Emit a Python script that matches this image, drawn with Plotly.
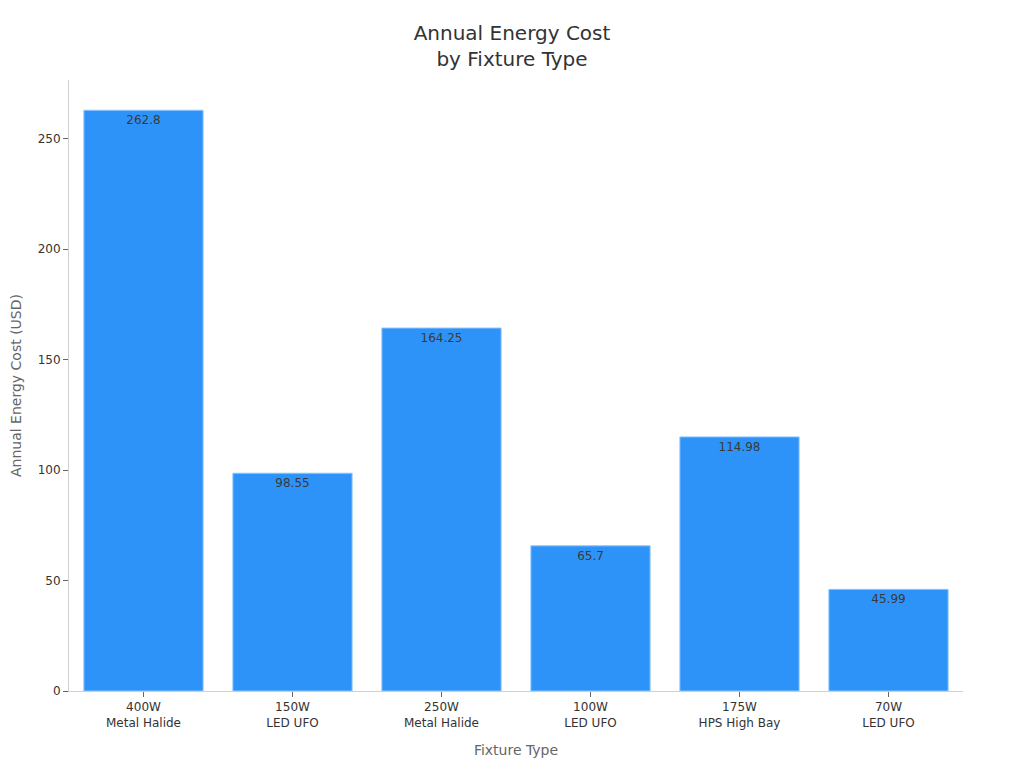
import plotly.graph_objects as go

categories = ["400W<br>Metal Halide", "150W<br>LED UFO", "250W<br>Metal Halide",
              "100W<br>LED UFO", "175W<br>HPS High Bay", "70W<br>LED UFO"]
costs = [262.8, 98.55, 164.25, 65.7, 114.98, 45.99]
labels = ["262.8", "98.55", "164.25", "65.7", "114.98", "45.99"]

fig = go.Figure(go.Bar(
    x=categories, y=costs, text=labels,
    textposition="inside", insidetextanchor="end",
    textfont=dict(color="#3a3a3a", size=12),
    marker=dict(color="#2E93F9", line=dict(color="#8CC4FB", width=1)),
    width=0.8,
))

fig.update_layout(
    width=1024, height=768,
    font=dict(family="DejaVu Sans", color="#333333"),
    title=dict(text="Annual Energy Cost<br>by Fixture Type", x=0.4922, xanchor="center",
               y=0.9585, yanchor="top", font=dict(size=20, color="#333333")),
    paper_bgcolor="white", plot_bgcolor="white",
    margin=dict(l=61, r=69, t=72, b=85),
    showlegend=False,
    xaxis=dict(title=dict(text="Fixture Type", font=dict(size=14, color="#666666"), standoff=16),
               showline=True, linecolor="#d0d0d0", ticks="outside", tickcolor="#666666",
               ticklen=5, tickfont=dict(size=12), showgrid=False),
    yaxis=dict(title=dict(text="Annual Energy Cost (USD)", font=dict(size=14, color="#666666")),
               range=[0, 276.5], showline=True, linecolor="#d0d0d0", ticks="outside",
               tickcolor="#666666", ticklen=5, tickfont=dict(size=12), showgrid=False,
               zeroline=False, dtick=50, automargin=False),
)

fig.write_html("out.html")
